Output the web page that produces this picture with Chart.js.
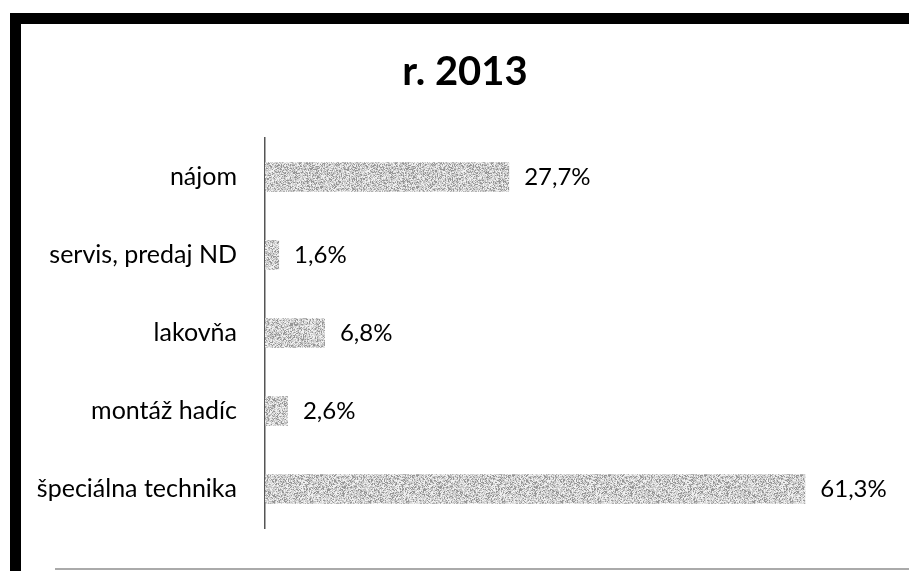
<!DOCTYPE html>
<html>
<head>
<meta charset="utf-8">
<script src="https://cdn.jsdelivr.net/npm/chart.js@4"></script>
<style>
  html, body { margin: 0; padding: 0; background: #fff; overflow: hidden; }
  #wrap { position: relative; width: 909px; height: 571px; overflow: hidden; }
  #chart { position: absolute; left: 0; top: 0; }
  .edge { position: absolute; background: #000; }
</style>
</head>
<body>
<div id="wrap">
  <canvas id="chart" width="909" height="571"></canvas>
  <div class="edge" style="left:10px;top:13px;width:11px;height:558px"></div>
  <div class="edge" style="left:10px;top:13px;width:899px;height:11px"></div>
  <div class="edge" style="left:55px;top:568px;width:854px;height:2px;background:#aaa"></div>
</div>
<script>
const categories = ['nájom', 'servis, predaj ND', 'lakovňa', 'montáž hadíc', 'špeciálna technika'];
const shares = [27.7, 1.6, 6.8, 2.6, 61.3];
const titleText = 'r. 2013';

// dithered grey fill like the scanned print
function makeDither() {
  const c = document.createElement('canvas');
  c.width = 96; c.height = 96;
  const g = c.getContext('2d');
  const img = g.createImageData(96, 96);
  let s = 98765;
  const rnd = () => { s = (s * 1103515245 + 12345) & 0x7fffffff; return (s >> 8) % 1000 / 1000; };
  for (let i = 0; i < 96 * 96; i++) {
    const r = rnd();
    const v = r < 0.22 ? 150 : r < 0.45 ? 190 : r < 0.75 ? 215 : 240;
    img.data[i * 4] = v; img.data[i * 4 + 1] = v; img.data[i * 4 + 2] = v; img.data[i * 4 + 3] = 255;
  }
  g.putImageData(img, 0, 0);
  return g.createPattern(c, 'repeat');
}

const titleAndValues = {
  id: 'titleAndValues',
  afterDatasetsDraw(chart) {
    const ctx = chart.ctx;
    ctx.save();
    ctx.fillStyle = '#000';
    ctx.textBaseline = 'middle';
    ctx.font = '24px Lato';
    chart.getDatasetMeta(0).data.forEach((bar, i) => {
      ctx.fillText(shares[i].toFixed(1).replace('.', ',') + '%', bar.x + 15, bar.y);
    });
    ctx.font = 'bold 40px Lato';
    ctx.textAlign = 'center';
    ctx.fillText(titleText, 465, 72);
    ctx.restore();
  }
};

new Chart(document.getElementById('chart').getContext('2d'), {
  type: 'bar',
  data: {
    labels: categories,
    datasets: [{
      data: shares,
      backgroundColor: makeDither(),
      borderWidth: 0,
      barPercentage: 0.38,
      categoryPercentage: 1
    }]
  },
  options: {
    indexAxis: 'y',
    responsive: false,
    animation: false,
    layout: { padding: { left: 0, right: 27, top: 138, bottom: 35 } },
    plugins: {
      legend: { display: false },
      tooltip: { enabled: false },
      title: { display: false }
    },
    scales: {
      x: { display: false, min: 0, max: 70 },
      y: {
        afterFit(scale) { scale.width = 265; },
        grid: { display: false, drawTicks: false },
        border: { display: true, color: '#555', width: 1.5 },
        ticks: { color: '#000', padding: 28, font: { family: 'Lato', size: 25 } }
      }
    }
  },
  plugins: [titleAndValues]
});
</script>
</body>
</html>
